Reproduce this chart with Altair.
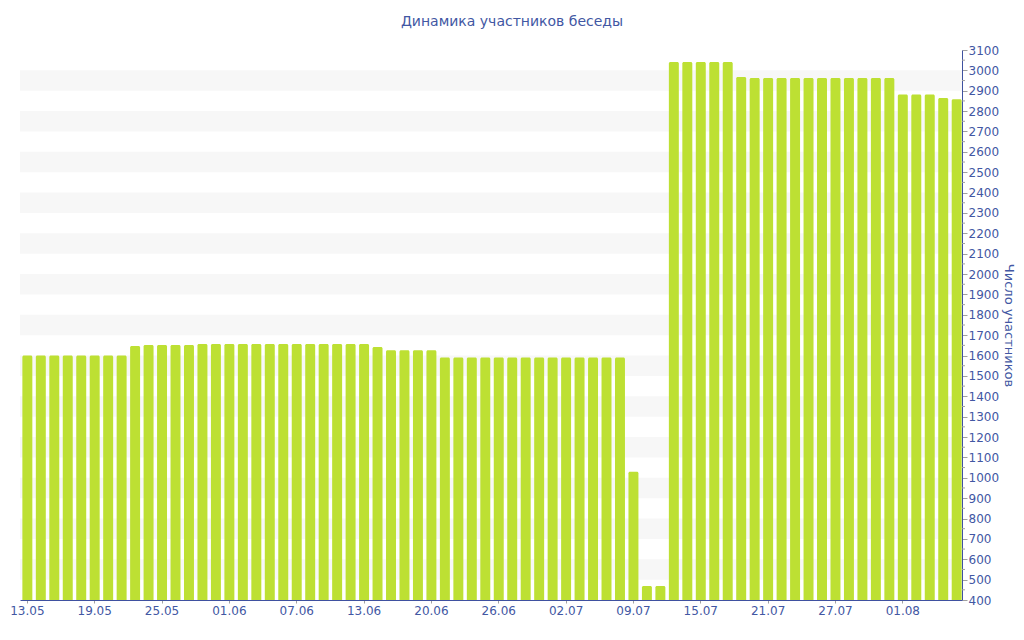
import altair as alt
import pandas as pd

counts = [
    1600, 1600, 1600, 1600, 1600, 1600, 1600, 1600, 1647, 1652,
    1652, 1652, 1652, 1657, 1657, 1657, 1657, 1657, 1657, 1657,
    1657, 1657, 1657, 1657, 1657, 1657, 1642, 1626, 1626, 1626,
    1626, 1591, 1591, 1591, 1591, 1591, 1591, 1591, 1591, 1591,
    1591, 1591, 1591, 1591, 1591, 1030, 469, 469, 3041, 3041,
    3041, 3041, 3041, 2967, 2962, 2962, 2962, 2962, 2962, 2962,
    2962, 2962, 2962, 2962, 2962, 2881, 2881, 2881, 2864, 2858,
]

# X tick labels (every 5th bar)
tick_labels = ["13.05", "19.05", "25.05", "01.06", "07.06", "13.06", "20.06",
               "26.06", "02.07", "09.07", "15.07", "21.07", "27.07", "01.08"]
tick_step = 5

# Y axis ticks
y_ticks = [400, 500, 600, 700, 800, 900, 1000, 1100, 1200, 1300, 1400, 1500,
           1600, 1700, 1800, 1900, 2000, 2100, 2200, 2300, 2400, 2500, 2600,
           2700, 2800, 2900, 3000, 3100]
y_minor = [450, 550, 650, 750, 850, 950, 1050, 1150, 1250, 1350, 1450, 1550,
           1650, 1750, 1850, 1950, 2050, 2150, 2250, 2350, 2450, 2550, 2650,
           2750, 2850, 2950, 3050]

# Alternating background bands
band_lo = [500, 700, 900, 1100, 1300, 1500, 1700, 1900, 2100, 2300, 2500, 2700, 2900]
band_hi = [600, 800, 1000, 1200, 1400, 1600, 1800, 2000, 2200, 2400, 2600, 2800, 3000]

W, H = 942, 550
BLUE = "#4257A3"
AXIS_BLUE = "#3F51A0"
FONT = "DejaVu Sans"

bars_df = pd.DataFrame({"i": list(range(len(counts))), "count": counts})
bands_df = pd.DataFrame({"lo": band_lo, "hi": band_hi})
minor_df = pd.DataFrame({"v": y_minor})

yscale = alt.Scale(domain=[400, 3100], nice=False, zero=False)

label_array = "[" + ",".join("'" + t + "'" for t in tick_labels) + "]"
label_expr = label_array + "[datum.value / " + str(tick_step) + "]"

y_axis = alt.Axis(
    orient="right",
    values=y_ticks,
    format="d",
    title="Число участников",
    titleAngle=90,
    titleX=46,
    titleY=H / 2,
    titleAlign="center",
    titleBaseline="middle",
    titleFont=FONT,
    titleFontSize=13,
    titleFontWeight="normal",
    titleColor=BLUE,
    tickSize=5,
    tickColor="#A0A0A0",
    domainColor=AXIS_BLUE,
    labelColor=BLUE,
    labelFont=FONT,
    labelFontSize=12,
    labelPadding=1,
    labelBaseline="middle",
    labelOverlap=False,
    grid=False,
)

bands = alt.Chart(bands_df).mark_rect(color="#F7F7F7").encode(
    y=alt.Y("lo:Q", scale=yscale, axis=y_axis),
    y2="hi:Q",
    x=alt.value(0),
    x2=alt.value(W),
)

bars = alt.Chart(bars_df).mark_bar(
    color="#BDE033", cornerRadiusTopLeft=1.5, cornerRadiusTopRight=1.5
).encode(
    x=alt.X(
        "i:O",
        scale=alt.Scale(paddingInner=0.26, paddingOuter=0.1, align=0.88),
        axis=alt.Axis(
            values=[k * tick_step for k in range(len(tick_labels))],
            labelExpr=label_expr,
            title=None,
            labelAngle=0,
            tickSize=3,
            tickColor="#A0A0A0",
            domainColor=AXIS_BLUE,
            labelColor=BLUE,
            labelFont=FONT,
            labelFontSize=12,
            labelPadding=2,
            grid=False,
        ),
    ),
    y=alt.Y("count:Q", scale=yscale, axis=y_axis),
    y2=alt.datum(400),
)

minor = alt.Chart(minor_df).mark_rule(color="#A0A0A0").encode(
    y=alt.Y("v:Q", scale=yscale, axis=y_axis),
    x=alt.value(W),
    x2=alt.value(W + 3),
)

chart = alt.layer(bands, bars, minor).properties(
    width=W,
    height=H,
    autosize=alt.AutoSizeParams(type="none"),
    padding={"left": 12, "top": 42, "right": 54, "bottom": 25},
    title=alt.TitleParams(
        "Динамика участников беседы",
        font=FONT,
        fontSize=14,
        fontWeight="normal",
        color=BLUE,
        anchor="middle",
        baseline="alphabetic",
        offset=4,
        dx=21,
    ),
).configure(background="white").configure_view(stroke=None)

chart.save("out.html", embed_options={"renderer": "svg", "actions": False})
